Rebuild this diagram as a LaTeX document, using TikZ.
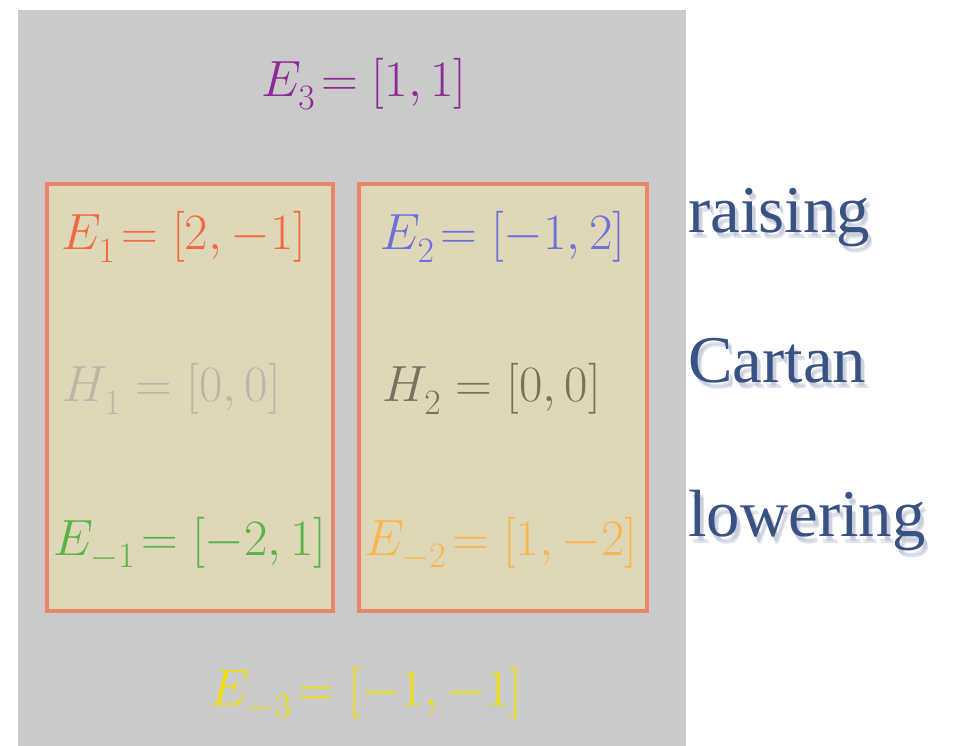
\RequirePackage{fix-cm}
\documentclass[tikz,border=0pt]{standalone}
\usepackage{amsmath}
\usepackage{fontspec}
\newfontfamily\labelfont{Liberation Serif}
\usepackage{tikz}
\usetikzlibrary{positioning, calc}
\definecolor{panelgray}{HTML}{CACACA}
\definecolor{boxfill}{HTML}{DFD8B8}
\definecolor{boxedge}{HTML}{E8866A}
\definecolor{rootthree}{HTML}{8E2A96}
\definecolor{rootone}{HTML}{F2693F}
\definecolor{roottwo}{HTML}{6E6EDC}
\definecolor{cartanone}{HTML}{BDB6A4}
\definecolor{cartantwo}{HTML}{77725C}
\definecolor{rootmone}{HTML}{58B348}
\definecolor{rootmtwo}{HTML}{F9B64C}
\definecolor{rootmthree}{HTML}{EEE000}
\definecolor{labelblue}{HTML}{3A5184}
\newcommand{\rsub}[1]{_{\lower3pt\hbox{$\scriptstyle #1$}}}

\begin{document}
\begin{tikzpicture}[x=0.02cm, y=-0.02cm,
    rootbox/.style={rectangle, draw=boxedge, fill=boxfill, line width=2.2pt,
                    minimum height=8.54cm, inner sep=0pt},
    weight/.style={anchor=base, inner sep=0pt, font=\fontsize{29}{33}\selectfont},
    sidelbl/.style={anchor=base west, inner sep=0pt, text=labelblue,
                    font=\labelfont\fontsize{38}{42}\selectfont},
    sideshadow/.style={sidelbl, text=labelblue!55!white, opacity=0.3}
]
    \useasboundingbox (0,0) rectangle (957,746);

    \node[fill=panelgray, minimum width=13.36cm, minimum height=14.72cm,
          inner sep=0pt, anchor=north west] (panel) at (18,10) {};

    \node[rootbox, minimum width=5.72cm] (leftbox) at (190,397.5) {};
    \node[rootbox, minimum width=5.76cm] (rightbox) at (503,397.5) {};

    % roots and Cartan weights
    \node[weight, text=rootthree] (e3) at (364,97) {$E\rsub{3}\!=[1,1]$};
    \node[weight, text=rootone] (e1) at (184,250) {$E\rsub{1}\!=[2,-1]$};
    \node[weight, text=roottwo] (e2) at (503,250) {$E\rsub{2}\!=[-1,2]$};
    \node[weight, text=cartanone] (h1) at (172,402) {$H\rsub{1}=[0,0]$};
    \node[weight, text=cartantwo] (h2) at (492,402) {$H\rsub{2}=[0,0]$};
    \node[weight, text=rootmone] (em1) at (190,555) {$E\rsub{-1}\!=[-2,1]$};
    \node[weight, text=rootmtwo] (em2) at (501,555) {$E\rsub{-2}\!=[1,-2]$};
    \node[weight, text=rootmthree] (em3) at (366,705) {$E\rsub{-3}\!=[-1,-1]$};

    % side labels with a soft shadow
    \foreach \dx/\dy in {3/4, 4/6} {
        \node[sideshadow] at (688+\dx,233+\dy) {raising};
        \node[sideshadow] at (688+\dx,383+\dy) {Cartan};
        \node[sideshadow] at (688+\dx,537+\dy) {lowering};
    }
    \node[sidelbl] (raising) at (688,233) {raising};
    \node[sidelbl] (cartan) at (688,383) {Cartan};
    \node[sidelbl] (lowering) at (688,537) {lowering};
\end{tikzpicture}
\end{document}
